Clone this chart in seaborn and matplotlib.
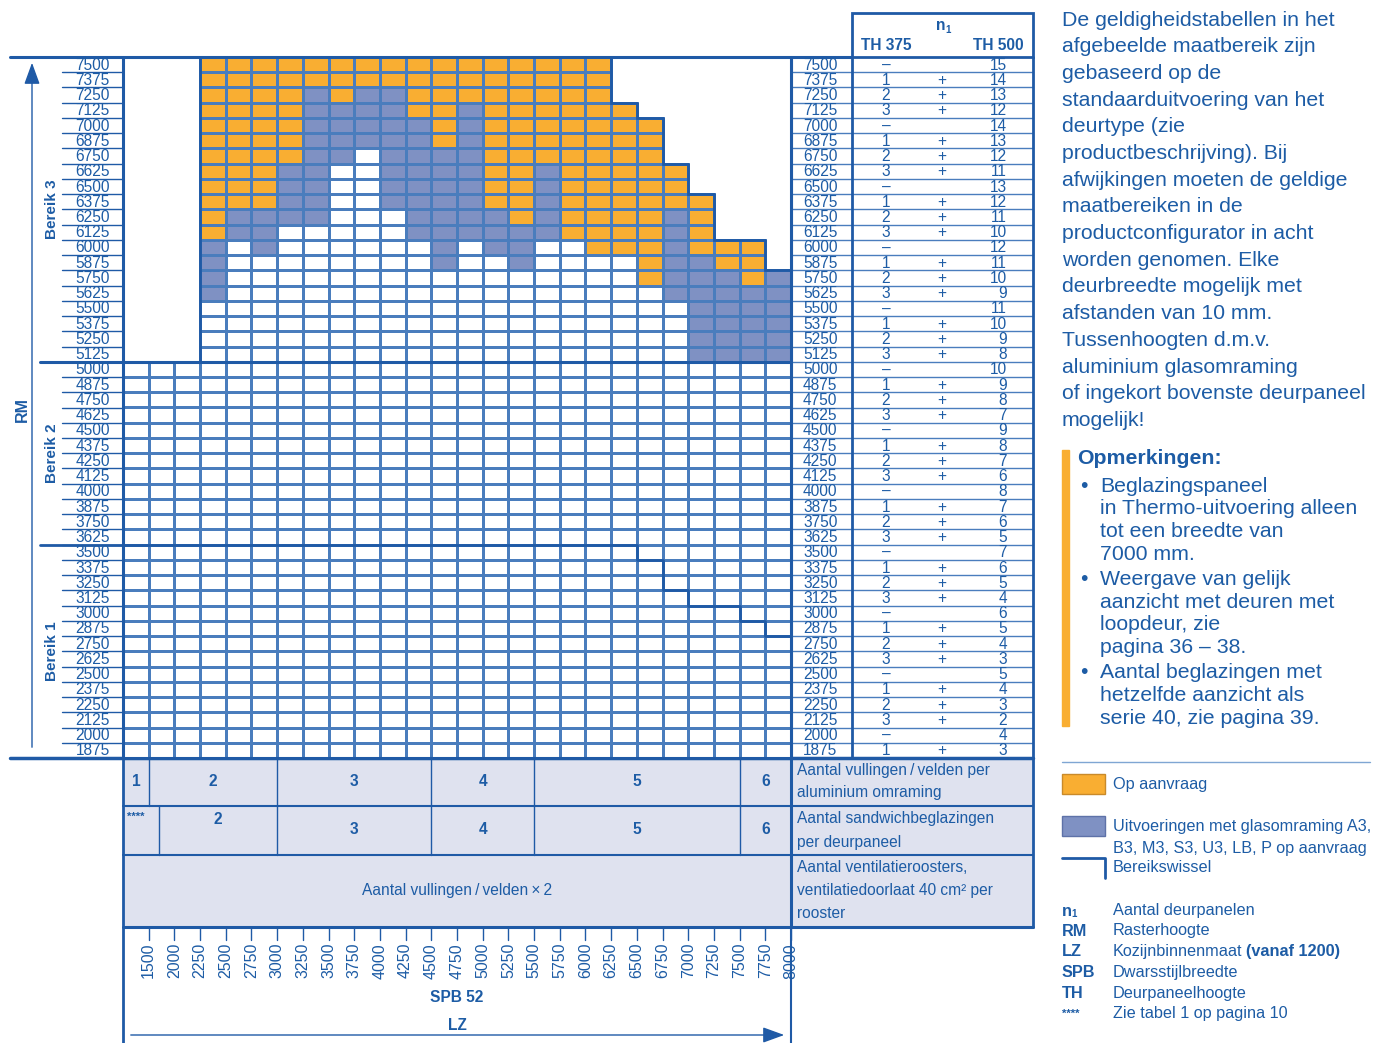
import numpy as np
import pandas as pd
import matplotlib
matplotlib.use("Agg")
import matplotlib.pyplot as plt
import seaborn as sns
from matplotlib.colors import ListedColormap, to_rgba
from matplotlib.patches import Rectangle

# --- DATA ---
rm_values = [7500, 7375, 7250, 7125, 7000, 6875, 6750, 6625, 6500, 6375,
             6250, 6125, 6000, 5875, 5750, 5625, 5500, 5375, 5250, 5125,
             5000, 4875, 4750, 4625, 4500, 4375, 4250, 4125, 4000, 3875,
             3750, 3625, 3500, 3375, 3250, 3125, 3000, 2875, 2750, 2625,
             2500, 2375, 2250, 2125, 2000, 1875]
lz_ticks = [1500, 2000, 2250, 2500, 2750, 3000, 3250, 3500, 3750, 4000,
            4250, 4500, 4750, 5000, 5250, 5500, 5750, 6000, 6250, 6500,
            6750, 7000, 7250, 7500, 7750, 8000]

# Bereik 3 cells, one string per RM row (7500 -> 5125), one char per LZ column
# o = op aanvraag, b = glasomraming, . = standaard, blank = buiten bereik
bereik3_cells = [
    "   " "oooooooo" "oooooooo" "       ",
    "   " "oooooooo" "oooooooo" "       ",
    "   " "oooobobb" "oooooooo" "       ",
    "   " "oooobbbb" "oobooooo" "o      ",
    "   " "oooobbbb" "bobooooo" "oo     ",
    "   " "oooobbbb" "bobooooo" "oo     ",
    "   " "oooobb.b" "bbbooooo" "oo     ",
    "   " "ooobb..b" "bbbooboo" "ooo    ",
    "   " "ooobb..b" "bbbooboo" "ooo    ",
    "   " "ooobb..b" "bbbooboo" "oooo   ",
    "   " "obbbb..." "bbbboboo" "oobo   ",
    "   " "obb....." "bbbbbboo" "oobo   ",
    "   " "b.b....." ".b.bb..o" "oobooo ",
    "   " "b......." ".b..b..." ".obboo ",
    "   " "b......." "........" ".obbbob",
    "   " "b......." "........" "..bbbbb",
    "   " "........" "........" "...bbbb",
    "   " "........" "........" "...bbbb",
    "   " "........" "........" "...bbbb",
    "   " "........" "........" "...bbbb",
]
lower_cells = ["." * 26] * 26   # Bereik 2 + Bereik 1: all standard

# first RM row of Bereik 1 per LZ column (Bereikswissel)
bereik1_top = [3500] * 20 + [3375, 3125, 3000, 3000, 2875, 2750]

th375 = ["–", "1", "2", "3"] * 11 + ["–", "1"]
th500 = [15, 14, 13, 12, 14, 13, 12, 11, 13, 12, 11, 10, 12, 11, 10, 9,
         11, 10, 9, 8, 10, 9, 8, 7, 9, 8, 7, 6, 8, 7, 6, 5, 7, 6, 5, 4,
         6, 5, 4, 3, 5, 4, 3, 2, 4, 3]

vullingen = ["1", "2", "3", "4", "5", "6"]
vullingen_edges = [0, 1, 6, 12, 16, 24, 26]
sandwich = ["****", "2", "3", "4", "5", "6"]
sandwich_edges = [0, 1.4, 6, 12, 16, 24, 26]

intro_lines = [
    "De geldigheidstabellen in het", "afgebeelde maatbereik zijn",
    "gebaseerd op de", "standaarduitvoering van het", "deurtype (zie",
    "productbeschrijving). Bij", "afwijkingen moeten de geldige",
    "maatbereiken in de", "productconfigurator in acht",
    "worden genomen. Elke", "deurbreedte mogelijk met",
    "afstanden van 10 mm.", "Tussenhoogten d.m.v.",
    "aluminium glasomraming", "of ingekort bovenste deurpaneel",
    "mogelijk!",
]
remarks = [
    ["Beglazingspaneel", "in Thermo-uitvoering alleen", "tot een breedte van", "7000 mm."],
    ["Weergave van gelijk", "aanzicht met deuren met", "loopdeur, zie", "pagina 36 – 38."],
    ["Aantal beglazingen met", "hetzelfde aanzicht als", "serie 40, zie pagina 39."],
]
abbrevs = [("RM", "Rasterhoogte"), ("LZ", "Kozijnbinnenmaat"),
           ("SPB", "Dwarsstijlbreedte"), ("TH", "Deurpaneelhoogte"),
           ("****", "Zie tabel 1 op pagina 10")]

for row in bereik3_cells:
    assert len(row) == len(lz_ticks)

# --- STYLE ---
sns.set_theme(style="white")
plt.rcParams["font.family"] = ["Liberation Sans", "DejaVu Sans"]
DARK = "#1f5aa6"
TXT = "#1d5ca5"
GRID = "#4a7dbd"
LIGHT = "#7fa6d3"
ORANGE = "#f9ae32"
BLUEC = "#7f91c3"
LAV = "#dfe2ef"
FS = 11.2

W, H = 1373, 1043
GX0, GX1, GY0, GY1 = 123, 791, 57, 758
ncol, nrow = len(lz_ticks), len(rm_values)
cw = (GX1 - GX0) / ncol
rh = (GY1 - GY0) / nrow

fig = plt.figure(figsize=(W / 100, H / 100), dpi=100)
ov = fig.add_axes([0, 0, 1, 1])
ov.set_xlim(0, W)
ov.set_ylim(H, 0)
ov.axis("off")

# --- GRID (heatmap) ---
codes = {".": 0, "o": 1, "b": 2}
mat = np.full((nrow, ncol), np.nan)
for i, row in enumerate(bereik3_cells + lower_cells):
    for j, ch in enumerate(row):
        if ch in codes:
            mat[i, j] = codes[ch]
df = pd.DataFrame(mat, index=rm_values, columns=lz_ticks)

ax = fig.add_axes([GX0 / W, 1 - GY1 / H, (GX1 - GX0) / W, (GY1 - GY0) / H])
sns.heatmap(df, mask=df.isna(), cmap=ListedColormap(["white", ORANGE, BLUEC]),
            vmin=-0.5, vmax=2.5, cbar=False, linewidths=1.0, linecolor=GRID,
            xticklabels=False, yticklabels=False, ax=ax)
ax.set_xlabel("")
ax.set_ylabel("")
ax.set_xlim(0, ncol)
ax.set_ylim(nrow, 0)

# no grid lines in the cells outside the range
mesh = ax.collections[0]
ec = np.tile(to_rgba(GRID), (nrow * ncol, 1))
ec[np.isnan(mat).ravel()] = (0, 0, 0, 0)
mesh.set_edgecolor(ec)

n3 = len(bereik3_cells)
top_row = [next((i for i in range(nrow) if not np.isnan(mat[i, c])), None) for c in range(ncol)]
first_c = next(c for c in range(ncol) if top_row[c] is not None and top_row[c] < n3)
sx, sy = [first_c, first_c], [n3, top_row[first_c]]
for c in range(first_c, ncol):
    sx += [c, c + 1]
    sy += [top_row[c], top_row[c]]
ax.plot(sx, sy, color=DARK, lw=2, clip_on=False, solid_joinstyle="miter")

bx, by = [], []
for c, v in enumerate(bereik1_top):
    r = rm_values.index(v)
    bx += [c, c + 1]
    by += [r, r]
ax.plot(bx, by, color=DARK, lw=2, clip_on=False)
ax.plot([0, ncol], [n3, n3], color=DARK, lw=2.2, clip_on=False)
ax.plot([0, 0, ncol, ncol, 0], [nrow, 0, 0, nrow, nrow], color=DARK, lw=2.2, clip_on=False)

# --- LEFT LABELS + RIGHT TABLE VALUES ---
for i, v in enumerate(rm_values):
    yc = GY0 + (i + 0.5) * rh
    ov.text(110, yc + 0.5, str(v), ha="right", va="center", fontsize=FS, color=TXT)
    ov.text(803, yc + 0.5, str(v), ha="left", va="center", fontsize=FS, color=TXT)
    ov.text(886, yc + 0.5, th375[i], ha="center", va="center", fontsize=FS, color=TXT)
    if th375[i] != "–":
        ov.text(942, yc + 0.5, "+", ha="center", va="center", fontsize=FS, color=TXT)
    ov.text(1007, yc + 0.5, str(th500[i]), ha="right", va="center", fontsize=FS, color=TXT)
for i in range(1, nrow):
    y = GY0 + i * rh
    ov.plot([62, GX0], [y, y], color=DARK, lw=1)
    ov.plot([GX1, 1033], [y, y], color=GRID, lw=1)
yb3 = GY0 + n3 * rh
yb1 = GY0 + rm_values.index(bereik1_top[0]) * rh
ov.plot([40, GX0], [yb3, yb3], color=DARK, lw=2.2)
ov.plot([40, GX0], [yb1, yb1], color=DARK, lw=2)
ov.plot([10, GX0], [GY0, GY0], color=DARK, lw=2.2)
ov.plot([GX1, 852], [GY0, GY0], color=DARK, lw=2.2)
ov.plot([10, 1033], [GY1, GY1], color=DARK, lw=2.5)
ov.annotate("", xy=(32, 60), xytext=(32, 750),
            arrowprops=dict(arrowstyle="-|>,head_length=1.1,head_width=0.4", color=DARK, lw=1))
ov.text(22, 410, "RM", rotation=90, ha="center", va="center", fontsize=11.5, fontweight="bold", color=TXT)
for lab, yy in [("Bereik 3", (GY0 + yb3) / 2), ("Bereik 2", (yb3 + yb1) / 2), ("Bereik 1", (yb1 + GY1) / 2)]:
    ov.text(52, yy, lab, rotation=90, ha="center", va="center", fontsize=11, fontweight="bold", color=TXT)

# --- RIGHT TABLE FRAME ---
ov.add_patch(Rectangle((852, 13), 1033 - 852, GY0 - 13, fill=False, ec=DARK, lw=2))
ov.plot([852, 852], [GY0, GY1], color=DARK, lw=2)
ov.plot([1033, 1033], [GY0, 927], color=DARK, lw=2)
ov.plot([GX1, GX1], [GY0, 927], color=DARK, lw=2.2)
ov.text(941, 26, "n", ha="center", va="center", fontsize=FS, fontweight="bold", color=TXT)
ov.text(945, 30, "1", ha="left", va="center", fontsize=7, fontweight="bold", color=TXT)
ov.text(886, 45, "TH 375", ha="center", va="center", fontsize=FS, fontweight="bold", color=TXT)
ov.text(998, 45, "TH 500", ha="center", va="center", fontsize=FS, fontweight="bold", color=TXT)

# --- BOTTOM TABLE ---
ov.add_patch(Rectangle((GX0, GY1), 1033 - GX0, 927 - GY1, color=LAV, zorder=0))
for y in [806, 855]:
    ov.plot([GX0, 1033], [y, y], color=DARK, lw=1.5)
ov.plot([GX0, 1033], [927, 927], color=DARK, lw=2.2)
ov.plot([GX0, GX0], [GY1, 1043], color=DARK, lw=2)
ov.plot([GX1, GX1], [927, 1043], color=DARK, lw=1.5)
for k in range(len(vullingen)):
    x0, x1 = GX0 + vullingen_edges[k] * cw, GX0 + vullingen_edges[k + 1] * cw
    if k > 0:
        ov.plot([x0, x0], [GY1, 806], color=DARK, lw=1)
    ov.text((x0 + x1) / 2, 782, vullingen[k], ha="center", va="center",
            fontsize=FS, fontweight="bold", color=TXT)
for k in range(len(sandwich)):
    x0, x1 = GX0 + sandwich_edges[k] * cw, GX0 + sandwich_edges[k + 1] * cw
    if k > 0:
        ov.plot([x0, x0], [806, 855], color=DARK, lw=1)
    if k == 0:
        ov.text(x0 + 4, 817, sandwich[k], ha="left", va="center", fontsize=8, fontweight="bold", color=TXT)
    elif k == 1:
        ov.text((x0 + x1) / 2, 819, sandwich[k], ha="center", va="center", fontsize=FS, fontweight="bold", color=TXT)
    else:
        ov.text((x0 + x1) / 2, 830, sandwich[k], ha="center", va="center", fontsize=FS, fontweight="bold", color=TXT)
ov.text((GX0 + GX1) / 2, 890, "Aantal vullingen\u2009/\u2009velden\u2009×\u20092", ha="center", va="center",
        fontsize=FS, color=TXT)
for txt, y in [("Aantal vullingen\u2009/\u2009velden per", 771), ("aluminium omraming", 793),
               ("Aantal sandwichbeglazingen", 819), ("per deurpaneel", 842),
               ("Aantal ventilatieroosters,", 868), ("ventilatiedoorlaat 40 cm² per", 890),
               ("rooster", 913)]:
    ov.text(797, y, txt, ha="left", va="center", fontsize=FS, color=TXT)

# --- X TICKS ---
for k, v in enumerate(lz_ticks):
    x = GX0 + (k + 1) * cw
    ov.plot([x, x], [927, 940], color=DARK, lw=1)
    ov.text(x, 943, str(v), rotation=90, ha="center", va="top", fontsize=11.5, color=TXT)
ov.text((GX0 + GX1) / 2, 998, "SPB 52", ha="center", va="center", fontsize=FS, fontweight="bold", color=TXT)
ov.text((GX0 + GX1) / 2, 1025, "LZ", ha="center", va="center", fontsize=FS, fontweight="bold", color=TXT)
ov.annotate("", xy=(787, 1035), xytext=(128, 1035),
            arrowprops=dict(arrowstyle="-|>,head_length=1.1,head_width=0.4", color=DARK, lw=1))

# --- RIGHT TEXT ---
for i, line in enumerate(intro_lines):
    ov.text(1062, 20 + i * 26.7, line, ha="left", va="center", fontsize=15.3, color=TXT)
ov.add_patch(Rectangle((1062, 450), 7, 276, color=ORANGE))
ov.text(1077, 459, "Opmerkingen:", ha="left", va="center", fontsize=15.3, fontweight="bold", color=TXT)
y = 486
for item in remarks:
    ov.text(1084, y, "•", ha="center", va="center", fontsize=15.3, color=TXT)
    for line in item:
        ov.text(1100, y, line, ha="left", va="center", fontsize=15.3, color=TXT)
        y += 22.7
    y += 2.5
ov.plot([1062, 1370], [762, 762], color=LIGHT, lw=1)

# legend
ov.add_patch(Rectangle((1062, 774), 43, 20, fc=ORANGE, ec="#c98a2a", lw=1))
ov.text(1113, 784, "Op aanvraag", ha="left", va="center", fontsize=11.7, color=TXT)
ov.add_patch(Rectangle((1062, 816), 43, 20, fc=BLUEC, ec="#5e72a8", lw=1))
ov.text(1113, 826, "Uitvoeringen met glasomraming A3,", ha="left", va="center", fontsize=11.7, color=TXT)
ov.text(1113, 849, "B3, M3, S3, U3, LB, P op aanvraag", ha="left", va="center", fontsize=11.7, color=TXT)
ov.plot([1062, 1105, 1105], [858, 858, 878], color=DARK, lw=2)
ov.text(1113, 868, "Bereikswissel", ha="left", va="center", fontsize=11.7, color=TXT)

ov.text(1062, 911, "n", ha="left", va="center", fontsize=11.7, fontweight="bold", color=TXT)
ov.text(1071, 914, "1", ha="left", va="center", fontsize=7, fontweight="bold", color=TXT)
ov.text(1113, 911, "Aantal deurpanelen", ha="left", va="center", fontsize=11.7, color=TXT)
for k, (key, val) in enumerate(abbrevs):
    yy = 931 + k * 20.7
    ov.text(1062, yy, key, ha="left", va="center", fontsize=11.7 if key != "****" else 8,
            fontweight="bold", color=TXT)
    t = ov.text(1113, yy, val, ha="left", va="center", fontsize=11.7, color=TXT)
    if key == "LZ":
        fig.canvas.draw()
        bb = t.get_window_extent()
        x_end = bb.x1 * W / fig.bbox.width
        ov.text(x_end + 4, yy, "(vanaf 1200)", ha="left", va="center", fontsize=11.7,
                fontweight="bold", color=TXT)

fig.savefig("out.png", dpi=100)
